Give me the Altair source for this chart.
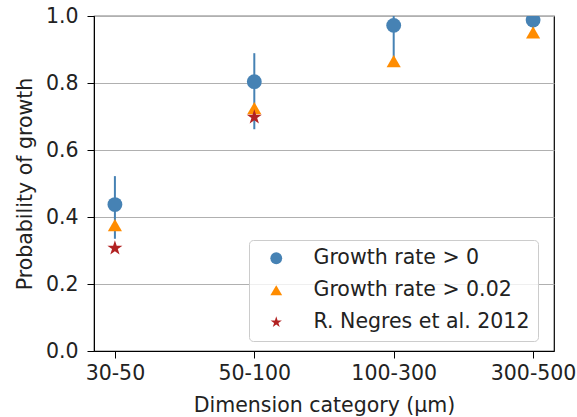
import altair as alt
import pandas as pd

categories = ["30-50", "50-100", "100-300", "300-500"]
series_names = ["Growth rate > 0", "Growth rate > 0.02", "R. Negres et al. 2012"]

growth0 = [0.437, 0.804, 0.972, 0.988]
growth0_lo = [0.335, 0.662, 0.865, 0.955]
growth0_hi = [0.522, 0.889, 1.0, 1.0]
growth002 = [0.376, 0.725, 0.865, 0.951]
negres_cats = ["30-50", "50-100"]
negres = [0.307, 0.698]

STAR = ("M0,-1L0.2245,-0.309L0.951,-0.309L0.363,0.118L0.588,0.809L0,0.382"
        "L-0.588,0.809L-0.363,0.118L-0.951,-0.309L-0.2245,-0.309Z")

rows = []
for c, v in zip(categories, growth0):
    rows.append({"cat": c, "value": v, "series": series_names[0]})
for c, v in zip(categories, growth002):
    rows.append({"cat": c, "value": v, "series": series_names[1]})
for c, v in zip(negres_cats, negres):
    rows.append({"cat": c, "value": v, "series": series_names[2]})
points = pd.DataFrame(rows)

errs = pd.DataFrame({"cat": categories, "lo": growth0_lo, "hi": growth0_hi})

font = "DejaVu Sans"
FS = 20.5
xenc = alt.X("cat:N", sort=categories, scale=alt.Scale(type="point", padding=0.15),
             axis=alt.Axis(title="Dimension category (µm)", labelAngle=0, grid=False))
yscale = alt.Scale(domain=[0, 1], nice=False)
yaxis = alt.Axis(title="Probability of growth", values=[0, 0.2, 0.4, 0.6, 0.8, 1.0],
                 format=".1f", grid=True, gridColor="#b0b0b0", gridWidth=1)

color_enc = alt.Color("series:N", sort=series_names,
                      scale=alt.Scale(domain=series_names, range=["#4682b4", "#ff8c00", "#b22222"]),
                      legend=alt.Legend(title=None, orient="none", legendX=155, legendY=224,
                                        fillColor="rgba(255,255,255,0.8)", strokeColor="#cccccc",
                                        cornerRadius=4, padding=8, symbolOffset=9,
                                        labelOffset=27, symbolSize=140, rowPadding=11,
                                        labelLimit=400,
                                        labelFontSize=FS, labelFont=font, labelColor="#222222"))
shape_enc = alt.Shape("series:N", sort=series_names,
                      scale=alt.Scale(domain=series_names, range=["circle", "triangle-up", STAR]))

rules = alt.Chart(errs).mark_rule(color="#4682b4", strokeWidth=2, clip=True).encode(
    x=xenc,
    y=alt.Y("lo:Q", scale=yscale, axis=yaxis),
    y2="hi:Q",
)

sizes = [220, 200, 250]
layers = [rules]
for name, sz in zip(series_names, sizes):
    layers.append(
        alt.Chart(points).transform_filter(alt.datum.series == name)
        .mark_point(filled=True, opacity=1, size=sz, clip=True)
        .encode(x=xenc, y=alt.Y("value:Q", scale=yscale, axis=yaxis),
                color=color_enc, shape=shape_enc)
    )

chart = alt.layer(*layers).properties(
    width=460, height=335,
    autosize=alt.AutoSizeParams(type="none"),
    padding={"left": 94, "top": 16, "right": 23, "bottom": 66},
).configure_view(stroke="black", strokeWidth=1.2).configure_axis(
    labelFont=font, titleFont=font, labelFontSize=FS, titleFontSize=FS,
    titleFontWeight="normal", labelColor="#222222", titleColor="#222222",
    domainColor="black", tickColor="black", tickSize=7,
).configure_axisX(titlePadding=12, labelPadding=5).configure_axisY(titlePadding=10, labelPadding=9)

chart.save("out.html", embed_options={"renderer": "svg", "actions": False})
